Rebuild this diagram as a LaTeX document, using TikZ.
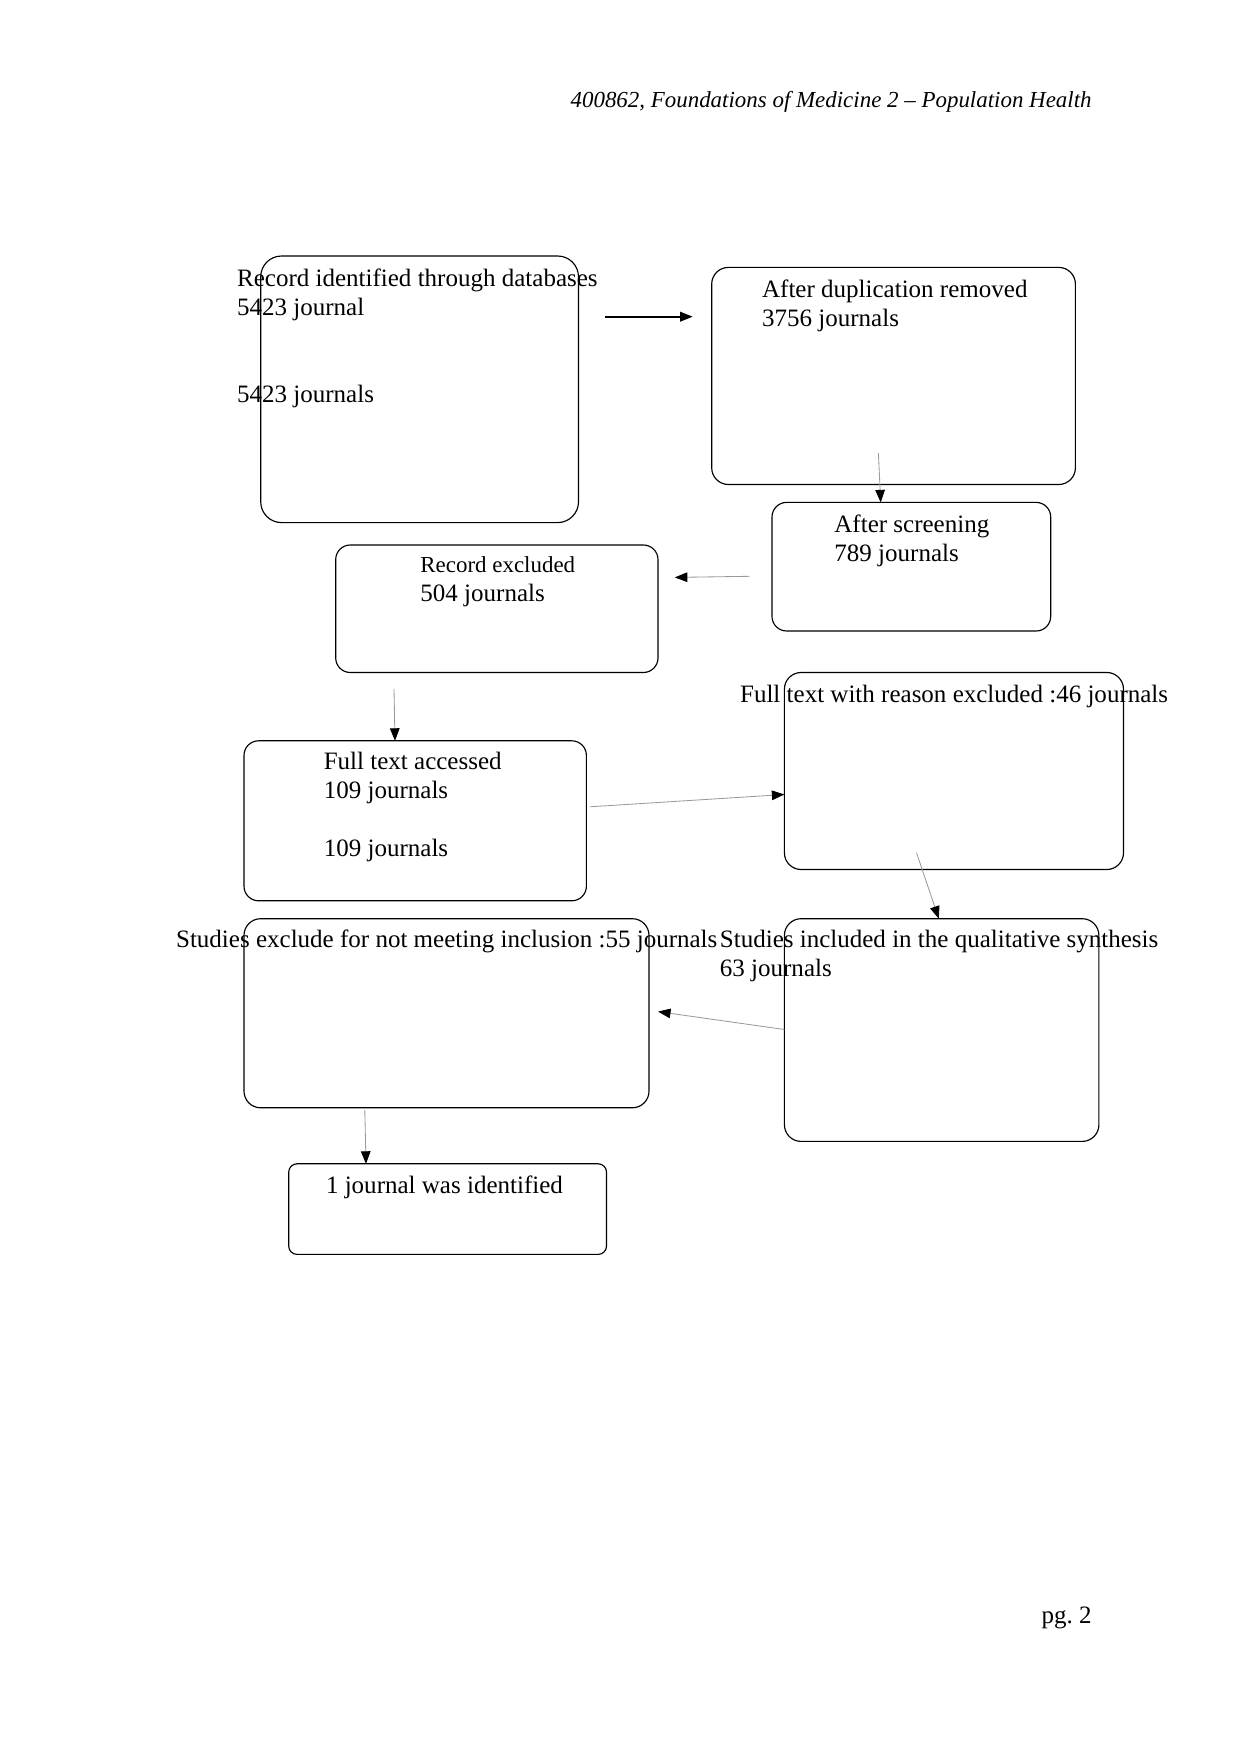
\documentclass[tikz,border=0pt]{standalone}
\usepackage{fontspec}
\setmainfont{Liberation Serif}
\usetikzlibrary{arrows.meta,positioning,calc,fit}

\tikzset{
  flowbox/.style={draw,line width=0.55pt,rounded corners=7pt,inner sep=0pt},
  boxtext/.style={anchor=base west,inner sep=0pt,align=left,
                  font=\fontsize{12}{13.9}\selectfont},
  link/.style={draw=black!40,line width=0.4pt,
               -{Triangle[length=6pt,width=4.6pt,color=black]}},
}

\begin{document}
\begin{tikzpicture}[x=0.4797pt,y=-0.4797pt]
\useasboundingbox (0,0) rectangle (1241,1754);

% page header and footer
\node[anchor=base east,inner sep=0pt,font=\fontsize{11}{12.7}\selectfont\itshape]
  (header) at (1092,107.5) {400862, Foundations of Medicine 2 -- Population Health};
\node[anchor=base east,inner sep=0pt,font=\fontsize{12}{13.9}\selectfont]
  (pageno) at (1092,1623.5) {pg.\ 2};

% boxes
\node[flowbox,rounded corners=10pt,fit={(260.7,256) (578.5,522.6)}] (identified) {};
\node[flowbox,rounded corners=8pt,fit={(711.7,267.4) (1075.4,484.5)}] (dedup) {};
\node[flowbox,fit={(772,502.4) (1050.7,631)}] (screened) {};
\node[flowbox,fit={(335.7,545) (658,672.5)}] (excluded) {};
\node[flowbox,fit={(244,740.8) (586.4,900.8)}] (fulltext) {};
\node[flowbox,rounded corners=8pt,fit={(784.4,672.5) (1123.5,869.5)}] (reason) {};
\node[flowbox,rounded corners=8pt,fit={(244,918.7) (649,1107.8)}] (notmeet) {};
\node[flowbox,rounded corners=8pt,fit={(784.4,918.7) (1098.9,1141.4)}] (synth) {};
\node[flowbox,rounded corners=4pt,fit={(288.7,1163.8) (606.5,1254.4)}] (final) {};

% texts (base = last line)
\node[boxtext] (identified-t) at (236.7,402.7)
  {Record identified through databases\\5423 journal\\[27.8pt]5423 journals};
\node[boxtext] (dedup-t) at (761.7,326.2) {After duplication removed\\3756 journals};
\node[boxtext] (screened-t) at (834,561.7) {After screening\\789 journals};
\node[boxtext] (excluded-t) at (420,601.7)
  {{\fontsize{11}{13.6}\selectfont Record excluded}\\504 journals};
\node[boxtext] (fulltext-t) at (323.4,856) {Full text accessed\\109 journals\\[13.9pt]109 journals};
\node[boxtext] (reason-t) at (739.7,702.7) {Full text with reason excluded :46 journals};
\node[boxtext] (notmeet-t) at (175.7,947.8) {Studies exclude for not meeting inclusion :55 journals};
\node[boxtext] (synth-t) at (719.5,976.8) {Studies included in the qualitative synthesis\\63 journals};
\node[boxtext] (final-t) at (325.6,1193) {1 journal was identified};

% connector ends
\coordinate (a1s) at (605.4,316.7);  \coordinate (a1e) at (692.7,316.7);
\coordinate (a2s) at (878.4,453.2);  \coordinate (a2e) at (880.7,502.4);
\coordinate (a3s) at (749.7,576.3);  \coordinate (a3e) at (674.8,577.4);
\coordinate (a4s) at (394,689);      \coordinate (a4e) at (395,740.8);
\coordinate (a5s) at (589.7,806.8);  \coordinate (a5e) at (784.4,794.5);
\coordinate (a6s) at (916.5,852.7);  \coordinate (a6e) at (938.8,918.7);
\coordinate (a7s) at (784.4,1029.5); \coordinate (a7e) at (658,1011.6);
\coordinate (a8s) at (364.8,1110);   \coordinate (a8e) at (366,1163.8);

% connectors
\draw[link,draw=black,line width=0.8pt] (a1s) -- (a1e);
\draw[link] (a2s) -- (a2e);
\draw[link] (a3s) -- (a3e);
\draw[link] (a4s) -- (a4e);
\draw[link] (a5s) -- (a5e);
\draw[link] (a6s) -- (a6e);
\draw[link] (a7s) -- (a7e);
\draw[link] (a8s) -- (a8e);
\end{tikzpicture}
\end{document}
